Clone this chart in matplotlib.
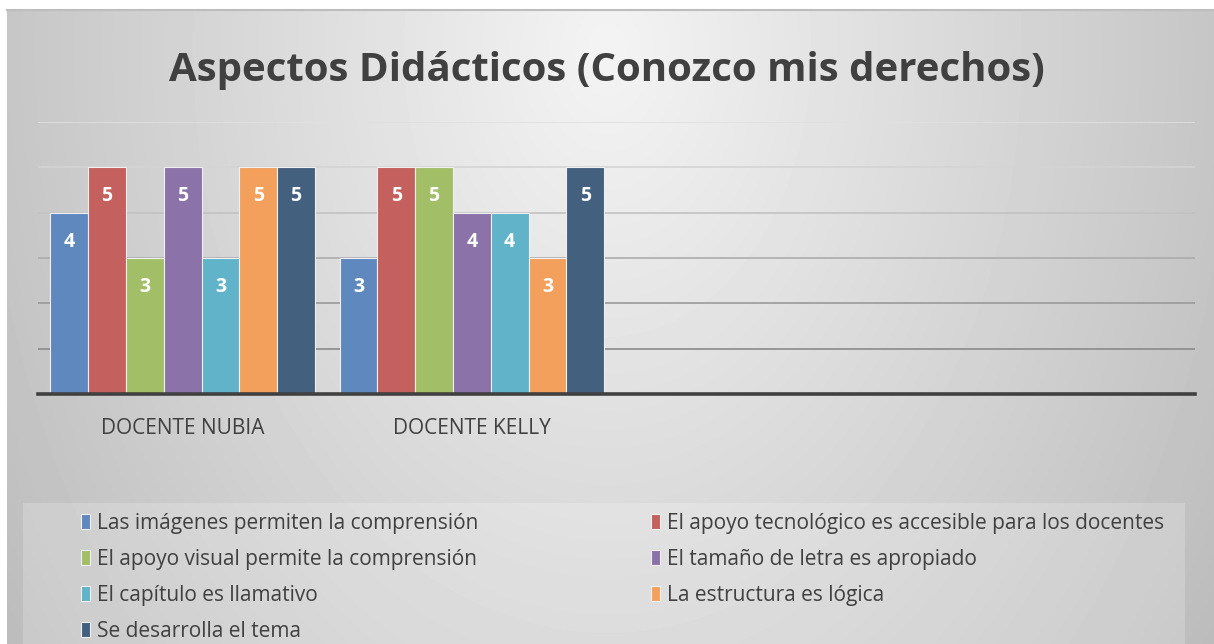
import matplotlib.pyplot as plt
import numpy as np
from matplotlib.patches import Rectangle

# datos
docentes = ["DOCENTE NUBIA", "DOCENTE KELLY", "", ""]
series = [
    "Las imágenes permiten la comprensión",
    "El apoyo tecnológico es accesible para los docentes",
    "El apoyo visual permite la comprensión",
    "El tamaño de letra es apropiado",
    "El capítulo es llamativo",
    "La estructura es lógica",
    "Se desarrolla el tema",
]
valores = [
    [4, 3],
    [5, 5],
    [3, 5],
    [5, 4],
    [3, 4],
    [5, 3],
    [5, 5],
]
colores = ["#5f88bf", "#c4605d", "#a2bf68", "#8b72a8", "#61b3ca", "#f3a05c", "#44607f"]

plt.rcParams["font.family"] = ["Open Sans", "DejaVu Sans"]

W, H = 1214, 644
fig = plt.figure(figsize=(W / 100, H / 100), dpi=100)
fig.patch.set_facecolor("white")

# fondo con degradado
bg = fig.add_axes([7 / W, 0, 1 - 7 / W, (H - 10) / H])
yy, xx = np.mgrid[0:634, 0:1207]
d = np.sqrt(((xx - 600) / 640.0) ** 2 + ((yy - 40) / 900.0) ** 2)
g = np.clip(0.955 - 0.19 * d, 0, 1)
bg.imshow(g, cmap="gray", vmin=0, vmax=1, aspect="auto", interpolation="bilinear")
bg.axis("off")
fig.add_artist(plt.Line2D([7 / W, 1], [(H - 10) / H] * 2, color="#bdbdbd", lw=1.5))

# caja de la leyenda
fig.add_artist(Rectangle((23 / W, 0), (1185 - 23) / W, (H - 503) / H,
                         transform=fig.transFigure, facecolor="white", alpha=0.2,
                         edgecolor="none"))

ax = fig.add_axes([38 / W, (H - 394) / H, 1157 / W, 272 / H])
ax.patch.set_alpha(0)

n = len(series)
x = np.arange(len(docentes))
ancho = 1 / (n + 0.66)
barras = []
for i in range(n):
    vals = valores[i]
    pos = x[:len(vals)] + (i - (n - 1) / 2) * ancho
    b = ax.bar(pos, vals, ancho, color=colores[i], edgecolor="#f0f0f0", linewidth=0.8,
               label=series[i], zorder=3)
    barras.append(b)
    for p, v in zip(pos, vals):
        ax.text(p, v - 0.64, str(v), ha="center", va="center", color="white",
                fontsize=14, fontweight="bold", zorder=4)

ax.set_xlim(-0.5, len(docentes) - 0.5)
ax.set_ylim(0, 6)
ax.set_yticks(range(1, 7))
ax.set_yticklabels([])
ax.tick_params(axis="y", length=0)
ax.tick_params(axis="x", length=0, pad=17, labelsize=15, labelcolor="#404040")
ax.set_xticks(x)
ax.set_xticklabels(docentes)
ax.grid(axis="y", linewidth=1.2, zorder=0)
tonos = ["#8a8a8a", "#9a9a9a", "#acacac", "#c2c2c2", "#d4d4d4", "#e0e0e0"]
for linea, c in zip(ax.get_ygridlines(), tonos):
    linea.set_color(c)
for s in ["top", "right", "left"]:
    ax.spines[s].set_visible(False)
ax.spines["bottom"].set_color("#404040")
ax.spines["bottom"].set_linewidth(2.6)
ax.spines["bottom"].set_zorder(5)

fig.text(0.5, (H - 70) / H, "Aspectos Didácticos (Conozco mis derechos)", ha="center",
         va="center", fontsize=29, fontweight="bold", color="#404040")

orden = [0, 2, 4, 6, 1, 3, 5]
leg = fig.legend([barras[i] for i in orden], [series[i] for i in orden],
                 loc="upper left", bbox_to_anchor=(81 / W, (H - 513) / H), ncol=2,
                 frameon=False, fontsize=15, handlelength=0.45, handleheight=0.7,
                 handletextpad=0.3, labelspacing=0.72, columnspacing=8.3, borderpad=0,
                 borderaxespad=0)
for t in leg.get_texts():
    t.set_color("#404040")

fig.savefig("out.png", dpi=100)
